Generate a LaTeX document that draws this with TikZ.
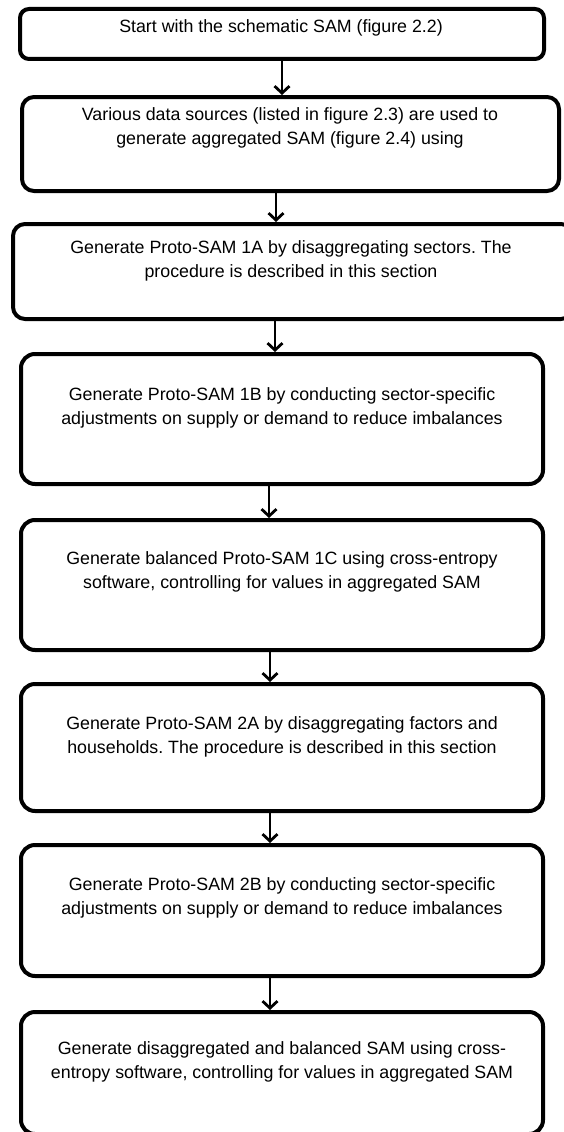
\documentclass[tikz,border=0pt]{standalone}
\usepackage{fontspec}
\setmainfont{Liberation Sans}
\frenchspacing
\usetikzlibrary{arrows.meta}
\begin{document}
\begin{tikzpicture}[x=1pt,y=-1pt,
  box/.style={draw=black,line width=4pt,fill=white,rounded corners=14pt,inner sep=0pt,minimum width=#1},
  box/.default=522pt,
  txt/.style={align=center,inner sep=0pt,font=\fontsize{17.8}{24}\selectfont},
  arr/.style={line width=2.8pt,-{Straight Barb[length=7pt,width=15pt]}}]
\useasboundingbox[fill=white] (0,0) rectangle (563,1132);
% boxes
\node[box=524pt,minimum height=50pt,rounded corners=9pt] (b1) at (282,34) {};
\node[box=537pt,minimum height=94pt,rounded corners=12pt] (b2) at (290.5,144) {};
\node[box=560pt,minimum height=95pt,rounded corners=12pt] (b3) at (293,271.5) {};
\node[box,minimum height=130pt] (b4) at (282,419) {};
\node[box,minimum height=130pt] (b5) at (282,585) {};
\node[box,minimum height=127pt] (b6) at (282,747.5) {};
\node[box,minimum height=131pt] (b7) at (282,910.5) {};
\node[box,minimum height=122pt] (b8) at (282,1073) {};
% texts
\node[txt] (t1) at (281,27.5) {Start with the schematic SAM (figure 2.2)};
\node[txt] (t2) at (290,128) {Various data sources (listed in figure 2.3) are used to\\generate aggregated SAM (figure 2.4) using};
\node[txt] (t3) at (291,261) {Generate Proto-SAM 1A by disaggregating sectors. The\\procedure is described in this section};
\node[txt] (t4) at (282,408) {Generate Proto-SAM 1B by conducting sector-specific\\adjustments on supply or demand to reduce imbalances};
\node[txt] (t5) at (282,572) {Generate balanced Proto-SAM 1C using cross-entropy\\software, controlling for values in aggregated SAM};
\node[txt] (t6) at (282,736.5) {Generate Proto-SAM 2A by disaggregating factors and\\households. The procedure is described in this section};
\node[txt] (t7) at (282,898) {Generate Proto-SAM 2B by conducting sector-specific\\adjustments on supply or demand to reduce imbalances};
\node[txt] (t8) at (282,1061.5) {Generate disaggregated and balanced SAM using cross-\\entropy software, controlling for values in aggregated SAM};
% connectors
\draw[arr] (b1.south) -- (b1.south |- b2.north);
\draw[arr] ([xshift=-14.5pt]b2.south) -- ([xshift=-14.5pt]b2.south |- b3.north);
\draw[arr] ([xshift=-18pt]b3.south) -- ([xshift=-18pt]b3.south |- b4.north);
\draw[arr] ([xshift=-13pt]b4.south) -- ([xshift=-13pt]b4.south |- b5.north);
\draw[arr] ([xshift=-12pt]b5.south) -- ([xshift=-12pt]b5.south |- b6.north);
\draw[arr] ([xshift=-12pt]b6.south) -- ([xshift=-12pt]b6.south |- b7.north);
\draw[arr] ([xshift=-12pt]b7.south) -- ([xshift=-12pt]b7.south |- b8.north);
\end{tikzpicture}
\end{document}
